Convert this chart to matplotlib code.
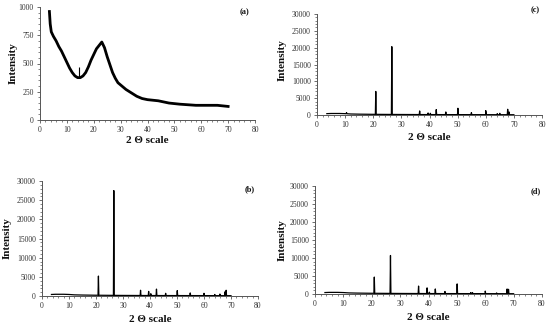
import matplotlib
matplotlib.use("Agg")
import matplotlib.pyplot as plt
import numpy as np
from matplotlib.ticker import MultipleLocator

plt.rcParams['font.family'] = ['Liberation Serif', 'DejaVu Serif']

# ---- Data ----
# (a) amorphous pattern: 2-theta and intensity
a_x = [3.5, 3.8, 4.2, 5, 6, 7, 8, 9, 10, 11, 12, 13, 14, 15, 16, 17, 18, 19, 20, 21, 22, 23, 24,
       25, 26, 27, 28, 29, 30, 32, 34, 36, 38, 40, 42, 44, 46, 48, 50, 52, 55, 58, 60, 63, 66, 68, 70]
a_y = [960, 850, 780, 740, 700, 650, 610, 560, 510, 460, 420, 390, 375, 375, 390, 420, 470, 530, 580,
       630, 660, 690, 640, 560, 490, 420, 370, 330, 310, 270, 240, 210, 190, 180, 175, 170, 160, 150,
       145, 140, 135, 130, 130, 130, 130, 125, 120]
# small spike in (a)
a_spike_x = [14.5]
a_spike_lo = [375]
a_spike_hi = [470]

# baseline for crystalline patterns
base_x = [3.5, 5, 8, 10, 12, 15, 20, 30, 40, 60, 70]
base_y = [400, 450, 450, 400, 300, 250, 200, 150, 120, 100, 80]

# (b) peaks
b_pos = [20.9, 26.6, 36.5, 39.5, 40.3, 42.4, 45.8, 50.1, 54.9, 60.0, 64.0, 65.9, 67.8, 68.2]
b_hgt = [5200, 27500, 1500, 1200, 600, 1800, 700, 1400, 800, 700, 400, 500, 1100, 1500]

# (c) peaks
c_pos = [10.5, 20.9, 26.6, 36.5, 39.5, 40.3, 42.4, 45.8, 50.1, 54.9, 60.0, 64.1, 65.0, 67.8, 68.3]
c_hgt = [700, 7000, 20300, 1200, 600, 500, 1600, 900, 2000, 700, 1300, 400, 500, 1700, 900]

# (d) peaks
d_pos = [20.9, 26.6, 36.5, 39.5, 40.3, 42.4, 45.8, 50.1, 54.9, 55.5, 60.0, 64.0, 67.7, 68.2]
d_hgt = [4700, 10700, 2200, 1700, 500, 1400, 700, 2800, 400, 400, 800, 300, 1400, 1300]

x_ticks = [0, 10, 20, 30, 40, 50, 60, 70, 80]


def pattern(pos, hgt):
    pts = list(zip(base_x, base_y))
    bx = np.array(base_x); by = np.array(base_y)
    for p, h in zip(pos, hgt):
        b = float(np.interp(p, bx, by))
        pts += [(p - 0.15, b), (p, h), (p + 0.15, b)]
    pts.sort()
    xs, ys = zip(*pts)
    return xs, ys


W, H = 550, 325
fig = plt.figure(figsize=(5.5, 3.25), dpi=100)


def make_ax(l, r, t, b):
    return fig.add_axes([l / W, 1 - b / H, (r - l) / W, (b - t) / H])


def style(ax, ymax, ymajor, yminor):
    ax.set_xlim(0, 80)
    ax.set_ylim(0, ymax)
    ax.set_xticks(x_ticks)
    ax.xaxis.set_minor_locator(MultipleLocator(2))
    ax.yaxis.set_major_locator(MultipleLocator(ymajor))
    ax.yaxis.set_minor_locator(MultipleLocator(yminor))
    for s in ['top', 'right']:
        ax.spines[s].set_visible(False)
    for s in ['left', 'bottom']:
        ax.spines[s].set_linewidth(0.7)
        ax.spines[s].set_color('#555555')
    ax.tick_params(which='major', direction='out', length=2.5, width=0.6, labelsize=5.5,
                   colors='#555555', labelcolor='#333333', pad=2)
    ax.tick_params(which='minor', direction='out', length=1.5, width=0.5, colors='#555555')


lab = dict(fontsize=8, fontweight='bold', color='#111111')
pl = dict(fontsize=6, fontweight='bold', color='#111111')

# (a)
ax = make_ax(40, 255, 7, 120)
ax.plot(a_x, a_y, color='black', lw=2.0, solid_joinstyle='round')
ax.vlines(a_spike_x, a_spike_lo, a_spike_hi, color='black', lw=0.8)
style(ax, 1000, 250, 50)
fig.text(13 / W, 1 - 63 / H, 'Intensity', rotation=90, ha='center', va='center', **lab)
fig.text(147 / W, 1 - 141 / H, '2 Θ scale', ha='center', va='center', **lab)
fig.text(245 / W, 1 - 12 / H, '(a)', ha='center', va='center', **pl)

# (c)
ax = make_ax(317, 542, 14, 115)
xs, ys = pattern(c_pos, c_hgt)
ax.plot(xs, ys, color='black', lw=0.9)
style(ax, 30000, 5000, 1000)
fig.text(282 / W, 1 - 60 / H, 'Intensity', rotation=90, ha='center', va='center', **lab)
fig.text(429 / W, 1 - 137 / H, '2 Θ scale', ha='center', va='center', **lab)
fig.text(535 / W, 1 - 10 / H, '(c)', ha='center', va='center', **pl)

# (b)
ax = make_ax(42, 258, 181, 296)
xs, ys = pattern(b_pos, b_hgt)
ax.plot(xs, ys, color='black', lw=0.9)
style(ax, 30000, 5000, 1000)
fig.text(7 / W, 1 - 238 / H, 'Intensity', rotation=90, ha='center', va='center', **lab)
fig.text(150 / W, 1 - 319 / H, '2 Θ scale', ha='center', va='center', **lab)
fig.text(250 / W, 1 - 189 / H, '(b)', ha='center', va='center', **pl)

# (d)
ax = make_ax(315, 542, 186, 294)
xs, ys = pattern(d_pos, d_hgt)
ax.plot(xs, ys, color='black', lw=0.9)
style(ax, 30000, 5000, 1000)
fig.text(282 / W, 1 - 240 / H, 'Intensity', rotation=90, ha='center', va='center', **lab)
fig.text(428 / W, 1 - 317 / H, '2 Θ scale', ha='center', va='center', **lab)
fig.text(536 / W, 1 - 191 / H, '(d)', ha='center', va='center', **pl)

fig.savefig('out.png', dpi=100, facecolor='white')
